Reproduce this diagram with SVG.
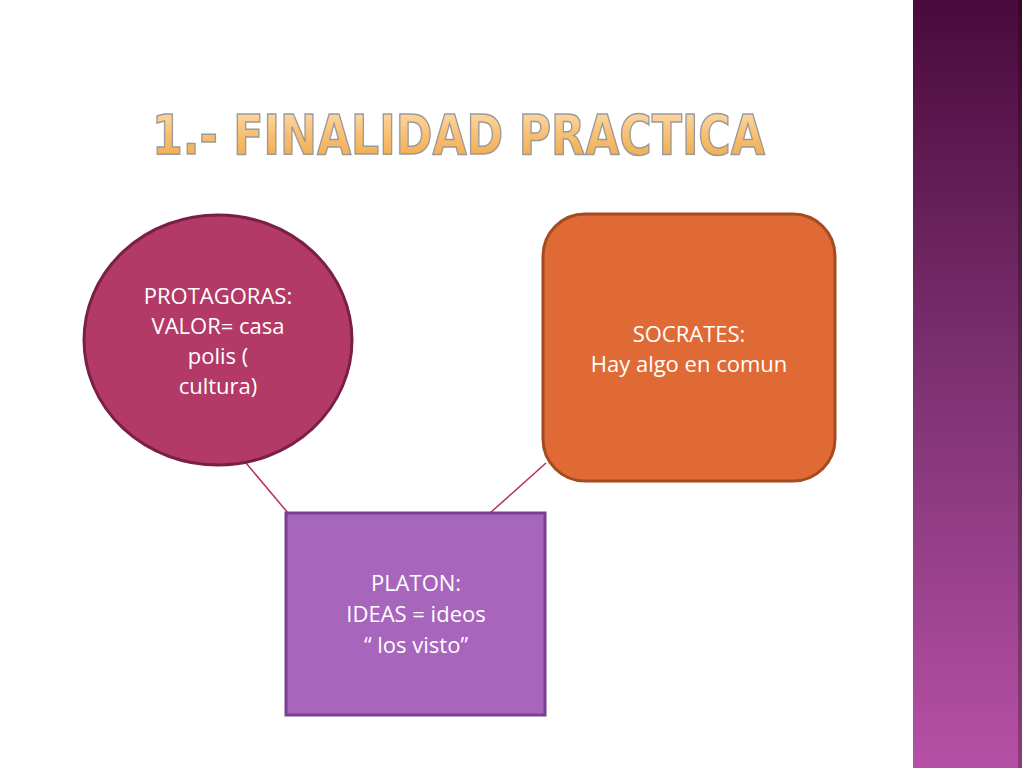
<svg xmlns="http://www.w3.org/2000/svg" width="1024" height="768" viewBox="0 0 1024 768">
<defs>
<linearGradient id="bar" x1="0" y1="0" x2="0" y2="1"><stop offset="0" stop-color="#4a0a3c"/><stop offset="0.5" stop-color="#7e3272"/><stop offset="1" stop-color="#b650a6"/></linearGradient>
<linearGradient id="tt" x1="0" y1="0" x2="0" y2="1"><stop offset="0" stop-color="#fde3b8"/><stop offset="0.5" stop-color="#f8bf73"/><stop offset="1" stop-color="#f0a640"/></linearGradient>
</defs>
<style>
.t{font-family:"Open Sans","Liberation Sans",sans-serif;font-size:22px;fill:#fff;text-anchor:middle}
</style>
<rect width="1024" height="768" fill="#fff"/>
<rect x="913" y="0" width="109" height="768" fill="url(#bar)"/>
<rect x="1018" y="0" width="4" height="768" fill="#000" opacity="0.25"/>
<text x="152" y="154" font-family="'DejaVu Sans Condensed','Liberation Sans',sans-serif" font-weight="bold" font-size="56" fill="url(#tt)" stroke="#9a9a9a" stroke-width="1.5" textLength="613" lengthAdjust="spacingAndGlyphs">1.- FINALIDAD PRACTICA</text>
<g id="connectors" stroke="#b0325e" stroke-width="1.5">
<line x1="246" y1="463" x2="288" y2="513"/>
<line x1="546" y1="463" x2="490" y2="513"/>
</g>
<g id="protagoras">
<ellipse cx="218" cy="340" rx="134" ry="125" fill="#b33a66" stroke="#7a1f45" stroke-width="3"/>
<text class="t" x="218" y="304">PROTAGORAS:</text>
<text class="t" x="218" y="334">VALOR= casa</text>
<text class="t" x="218" y="364">polis (</text>
<text class="t" x="218" y="394">cultura)</text>
</g>
<g id="socrates">
<rect x="543" y="214" width="292" height="267" rx="42" fill="#e06a35" stroke="#a64a20" stroke-width="3"/>
<text class="t" x="689" y="342">SOCRATES:</text>
<text class="t" x="689" y="372">Hay algo en comun</text>
</g>
<g id="platon">
<rect x="286" y="513" width="259" height="202" fill="#a765bb" stroke="#7a4090" stroke-width="3"/>
<text class="t" x="416" y="591">PLATON:</text>
<text class="t" x="416" y="622">IDEAS = ideos</text>
<text class="t" x="416" y="653">“ los visto”</text>
</g>
</svg>
